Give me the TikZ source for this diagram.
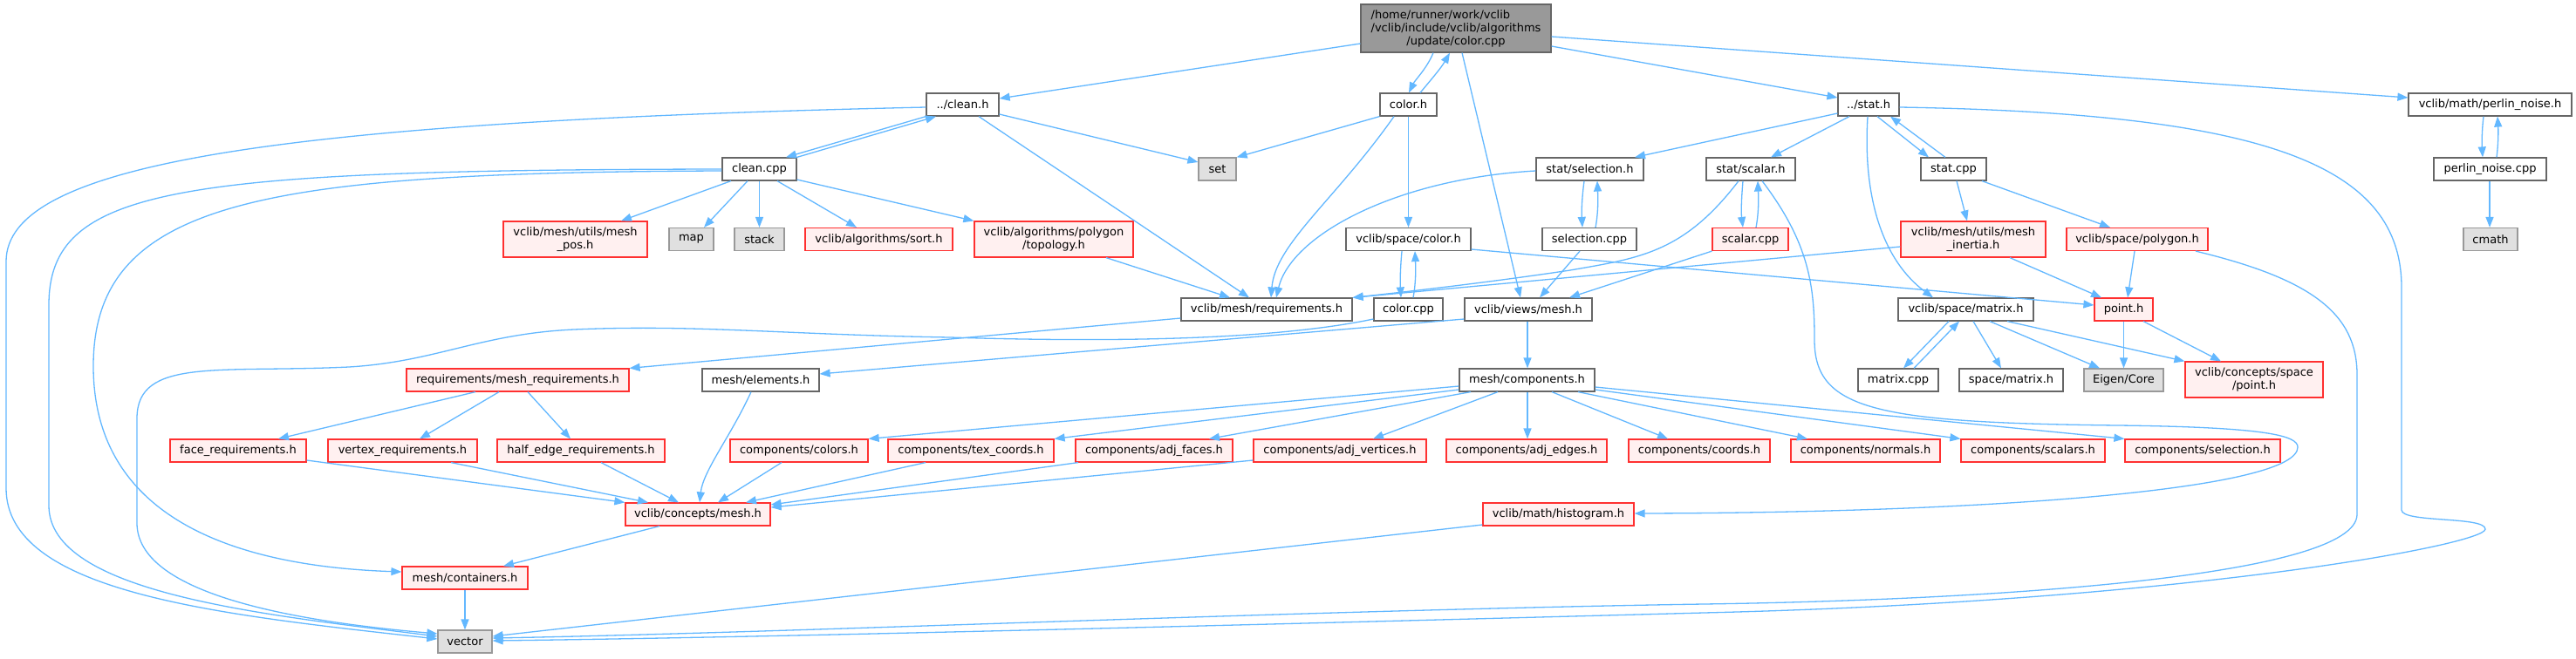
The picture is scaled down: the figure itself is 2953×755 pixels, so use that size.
\documentclass[tikz,border=0pt]{standalone}
\usepackage{fontspec}
\setmainfont{DejaVu Sans}
\usepackage{calc}
\usetikzlibrary{arrows.meta}
\definecolor{edgeblue}{HTML}{63B8FF}
\definecolor{boxgray}{HTML}{666666}
\definecolor{extgray}{HTML}{999999}
\definecolor{extfill}{HTML}{E0E0E0}
\definecolor{redline}{HTML}{FF3030}
\definecolor{redfill}{HTML}{FFF0F0}
\definecolor{rootfill}{HTML}{999999}
\newcommand\nodefont{\fontsize{6.5pt}{7.5pt}\selectfont}
\tikzset{
  nodebase/.style={draw, rectangle, inner sep=0pt, font=\nodefont, text=black, line width=0.6pt, minimum height=13pt},
  wbox/.style={nodebase, draw=boxgray, fill=white},
  gbox/.style={nodebase, draw=extgray, fill=extfill},
  rbox/.style={nodebase, draw=redline, fill=redfill},
  rootbox/.style={nodebase, draw=boxgray, fill=rootfill, minimum height=27.5pt, align=center},
  two/.style={minimum height=20.5pt, align=center},
  wd/.style={minimum width=#1*0.5pt},
  dep/.style={draw=edgeblue, line width=0.65pt, -{Triangle[length=6pt,width=4.5pt]}},
}
\begin{document}
\begin{tikzpicture}[x=0.5pt,y=-0.5pt]
\fill[white] (0,0) rectangle (2953,755);
\useasboundingbox (0,0) rectangle (2953,755);
% nodes
\node[rootbox, wd=218] (root) at (1669,32.5) {\makebox[\widthof{/vclib/include/vclib/algorithms}][l]{/home/runner/work/vclib}\\/vclib/include/vclib/algorithms\\/update/color.cpp};
\node[wbox, wd=83] (cleanh) at (1103.5,120) {../clean.h};
\node[wbox, wd=65] (colorh) at (1614.5,120) {color.h};
\node[wbox, wd=70] (stath) at (2142,120) {../stat.h};
\node[wbox, wd=187] (perlinh) at (2854.5,120) {vclib/math/perlin\_noise.h};
\node[wbox, wd=85] (cleancpp) at (870.5,194) {clean.cpp};
\node[gbox, wd=43] (set) at (1395.5,194) {set};
\node[wbox, wd=123] (selh) at (1822.5,194) {stat/selection.h};
\node[wbox, wd=102] (scalarh) at (2007,194) {stat/scalar.h};
\node[wbox, wd=75] (statcpp) at (2239.5,194) {stat.cpp};
\node[wbox, wd=129] (perlincpp) at (2854.5,194) {perlin\_noise.cpp};
\node[rbox, two, wd=165] (meshpos) at (659.5,274.5) {vclib/mesh/utils/mesh\\\_pos.h};
\node[gbox, wd=51] (map) at (792.5,274.5) {map};
\node[gbox, wd=57] (stack) at (870.5,274.5) {stack};
\node[rbox, wd=169] (sort) at (1007.5,274.5) {vclib/algorithms/sort.h};
\node[rbox, two, wd=182] (topology) at (1208,274.5) {vclib/algorithms/polygon\\/topology.h};
\node[wbox, wd=143] (spacecolor) at (1614.5,274.5) {vclib/space/color.h};
\node[wbox, wd=108] (selcpp) at (1822,274.5) {selection.cpp};
\node[rbox, wd=87] (scalarcpp) at (2006.5,274.5) {scalar.cpp};
\node[rbox, two, wd=166] (inertia) at (2262,274.5) {vclib/mesh/utils/mesh\\\_inertia.h};
\node[rbox, wd=162] (polygon) at (2450,274.5) {vclib/space/polygon.h};
\node[gbox, wd=62] (cmath) at (2855,274.5) {cmath};
\node[wbox, wd=196] (reqh) at (1452,355) {vclib/mesh/requirements.h};
\node[wbox, wd=79] (colorcpp) at (1614.5,355) {color.cpp};
\node[wbox, wd=146] (viewsmesh) at (1752,355) {vclib/views/mesh.h};
\node[wbox, wd=155] (matrixh) at (2253.5,355) {vclib/space/matrix.h};
\node[rbox, wd=67] (pointh) at (2434.5,355) {point.h};
\node[rbox, wd=255] (meshreq) at (593.5,436) {requirements/mesh\_requirements.h};
\node[wbox, wd=134] (elements) at (872,436) {mesh/elements.h};
\node[wbox, wd=155] (components) at (1750.5,436) {mesh/components.h};
\node[wbox, wd=92] (matrixcpp) at (2176,436) {matrix.cpp};
\node[wbox, wd=119] (spacematrix) at (2305.5,436) {space/matrix.h};
\node[gbox, wd=91] (eigen) at (2434.5,436) {Eigen/Core};
\node[rbox, two, wd=158] (cpoint) at (2584,435.5) {vclib/concepts/space\\/point.h};
\node[rbox, wd=156] (facereq) at (273,517) {face\_requirements.h};
\node[rbox, wd=171] (vertexreq) at (461.5,517) {vertex\_requirements.h};
\node[rbox, wd=192] (halfedge) at (666,517) {half\_edge\_requirements.h};
\node[rbox, wd=158] (colors) at (916,517) {components/colors.h};
\node[rbox, wd=190] (texcoords) at (1113,517) {components/tex\_coords.h};
\node[rbox, wd=180] (adjfaces) at (1323,517) {components/adj\_faces.h};
\node[rbox, wd=198] (adjverts) at (1536,517) {components/adj\_vertices.h};
\node[rbox, wd=184] (adjedges) at (1750,517) {components/adj\_edges.h};
\node[rbox, wd=162] (coords) at (1948,517) {components/coords.h};
\node[rbox, wd=171] (normals) at (2138.5,517) {components/normals.h};
\node[rbox, wd=165] (scalars) at (2330.5,517) {components/scalars.h};
\node[rbox, wd=178] (selection) at (2525,517) {components/selection.h};
\node[rbox, wd=166] (cmesh) at (800,590) {vclib/concepts/mesh.h};
\node[rbox, wd=173] (histogram) at (1786.5,590) {vclib/math/histogram.h};
\node[rbox, wd=144] (containers) at (533,663) {mesh/containers.h};
\node[gbox, wd=62] (vector) at (533,736) {vector};
% edges from root
\draw[dep] (root.west |- 0,50) -- (cleanh.east |- 0,113);
\draw[dep] (root.south -| 1643,0) .. controls (1636,78) and (1622,92) .. (colorh.north -| 1615,0);
\draw[dep] (colorh.north -| 1628,0) .. controls (1640,92) and (1652,78) .. (root.south -| 1662,0);
\draw[dep] (root.east |- 0,53) -- (stath.west |- 0,112);
\draw[dep] (root.east |- 0,42) -- (perlinh.west |- 0,112);
\draw[dep] (root.south -| 1676,0) -- (viewsmesh.north -| 1743,0);
% clean.h
\draw[dep] (cleanh.south west) -- (cleancpp.north -| 901,0);
\draw[dep] (cleancpp.north east) -- (cleanh.south -| 1073,0);
\draw[dep] (cleanh.east |- 0,131) -- (set.west |- 0,186);
\draw[dep] (cleanh.south -| 1122,0) -- (reqh.north -| 1432,0);
\draw[dep] (cleanh.west |- 0,123) .. controls (300,140) and (7,190) .. (7,300) -- (7,560) .. controls (7,680) and (250,705) .. (vector.west |- 0,733);
% clean.cpp
\draw[dep] (cleancpp.south -| 838,0) -- (meshpos.north -| 712,0);
\draw[dep] (cleancpp.south -| 857,0) -- (map.north -| 807,0);
\draw[dep] (cleancpp.south) -- (stack.north);
\draw[dep] (cleancpp.south -| 891,0) -- (sort.north -| 982,0);
\draw[dep] (cleancpp.east |- 0,206) -- (topology.north west);
\draw[dep] (cleancpp.west |- 0,194) .. controls (200,195) and (56,215) .. (56,350) -- (56,580) .. controls (56,680) and (300,705) .. (vector.west |- 0,730);
\draw[dep] (cleancpp.west |- 0,196) .. controls (300,198) and (107,230) .. (107,420) .. controls (107,600) and (280,650) .. (containers.west |- 0,656);
% color.h
\draw[dep] (colorh.south west) -- (set.north east);
\draw[dep] (colorh.south -| 1598,0) .. controls (1530,230) and (1462,280) .. (reqh.north -| 1457,0);
\draw[dep] (colorh.south) -- (spacecolor.north);
% selection
\draw[dep] (selh.south -| 1816,0) .. controls (1813,230) and (1813,245) .. (selcpp.north -| 1814,0);
\draw[dep] (selcpp.north -| 1829,0) .. controls (1832,245) and (1832,230) .. (selh.south -| 1831,0);
\draw[dep] (selh.west |- 0,196) .. controls (1600,205) and (1480,270) .. (reqh.north -| 1463,0);
\draw[dep] (selcpp.south -| 1811,0) -- (viewsmesh.north -| 1765,0);
% space/color.h
\draw[dep] (spacecolor.south -| 1607,0) .. controls (1605,310) and (1605,325) .. (colorcpp.north -| 1606,0);
\draw[dep] (colorcpp.north -| 1620,0) .. controls (1623,325) and (1623,310) .. (spacecolor.south -| 1622,0);
\draw[dep] (spacecolor.east |- 0,286) -- (pointh.west |- 0,350);
\draw[dep] (topology.south -| 1268,0) -- (reqh.north -| 1410,0);
% stat.h
\draw[dep] (stath.west |- 0,130) -- (selh.north -| 1874,0);
\draw[dep] (stath.south -| 2120,0) -- (scalarh.north -| 2030,0);
\draw[dep] (stath.south -| 2152,0) -- (statcpp.north -| 2211,0);
\draw[dep] (statcpp.north -| 2230,0) -- (stath.south -| 2167,0);
\draw[dep] (stath.south -| 2141,0) .. controls (2135,230) and (2160,300) .. (matrixh.north -| 2216,0);
\draw[dep] (stath.east |- 0,123) .. controls (2600,130) and (2753,190) .. (2753,330) -- (2753,585) .. controls (2753,600) and (2849,592) .. (2849,607) .. controls (2849,625) and (2500,690) .. (1953,703) .. controls (1500,715) and (900,731) .. (vector.east |- 0,735);
\draw[dep] (polygon.south -| 2517,0) .. controls (2650,320) and (2702,360) .. (2702,430) -- (2702,590) .. controls (2702,660) and (2300,688) .. (1953,693) .. controls (1500,700) and (900,726) .. (vector.east |- 0,732);
% stat/scalar.h
\draw[dep] (scalarh.south -| 1998,0) .. controls (1996,230) and (1996,245) .. (scalarcpp.north -| 1998,0);
\draw[dep] (scalarcpp.north -| 2013,0) .. controls (2016,245) and (2016,230) .. (scalarh.south -| 2015,0);
\draw[dep] (scalarh.south -| 1993,0) .. controls (1930,290) and (1880,296) .. (1800,310) .. controls (1700,325) and (1600,336) .. (reqh.north east);
\draw[dep] (scalarh.south -| 2020,0) .. controls (2075,280) and (2080,330) .. (2080,390) .. controls (2080,470) and (2150,485) .. (2428,488) .. controls (2600,490) and (2634,500) .. (2634,513) .. controls (2634,560) and (2300,588) .. (histogram.east |- 0,589);
\draw[dep] (scalarcpp.south west) -- (viewsmesh.north -| 1799,0);
\draw[dep] (inertia.west |- 0,283) -- (reqh.north east);
% stat.cpp etc.
\draw[dep] (statcpp.south -| 2243,0) -- (inertia.north -| 2255,0);
\draw[dep] (statcpp.south -| 2272,0) -- (polygon.north -| 2419,0);
\draw[dep] (inertia.south -| 2304,0) -- (pointh.north -| 2409,0);
\draw[dep] (polygon.south -| 2447,0) -- (pointh.north -| 2439,0);
\draw[dep] (pointh.south) -- (eigen.north);
\draw[dep] (pointh.south -| 2457,0) -- (cpoint.north -| 2546,0);
\draw[dep] (matrixh.south -| 2234,0) -- (matrixcpp.north -| 2182,0);
\draw[dep] (matrixcpp.north -| 2194,0) -- (matrixh.south -| 2246,0);
\draw[dep] (matrixh.south -| 2262,0) -- (spacematrix.north -| 2294,0);
\draw[dep] (matrixh.south -| 2281,0) -- (eigen.north -| 2407,0);
\draw[dep] (matrixh.south -| 2301,0) -- (cpoint.north west);
% perlin
\draw[dep] (perlinh.south -| 2847,0) .. controls (2845,150) and (2845,165) .. (perlincpp.north -| 2846,0);
\draw[dep] (perlincpp.north -| 2862,0) .. controls (2864,165) and (2864,150) .. (perlinh.south -| 2863,0);
\draw[dep] (perlincpp.south -| 2854,0) -- (cmath.north -| 2854,0);
% views/mesh.h, requirements
\draw[dep] (viewsmesh.south -| 1751,0) -- (components.north -| 1751,0);
\draw[dep] (viewsmesh.west |- 0,366) -- (elements.east |- 0,429);
\draw[dep] (reqh.west |- 0,365) -- (meshreq.north east);
\draw[dep] (colorcpp.west |- 0,366) .. controls (1450,392) and (1250,392) .. (1089,387) .. controls (900,384) and (800,372) .. (658,378) .. controls (550,383) and (500,415) .. (400,421) .. controls (250,428) and (157,410) .. (157,480) -- (157,600) .. controls (157,680) and (330,712) .. (vector.west |- 0,727);
% mesh requirements
\draw[dep] (meshreq.south -| 545,0) -- (facereq.north -| 319,0);
\draw[dep] (meshreq.south -| 572,0) -- (vertexreq.north -| 481,0);
\draw[dep] (meshreq.south -| 605,0) -- (halfedge.north -| 654,0);
\draw[dep] (facereq.east |- 0,528) -- (cmesh.north west);
\draw[dep] (vertexreq.south -| 517,0) -- (cmesh.north -| 743,0);
\draw[dep] (halfedge.south -| 689,0) -- (cmesh.north -| 778,0);
\draw[dep] (elements.south -| 861,0) .. controls (838,500) and (806,540) .. (cmesh.north -| 802,0);
\draw[dep] (colors.south -| 896,0) -- (cmesh.north -| 823,0);
\draw[dep] (texcoords.south -| 1061,0) -- (cmesh.north -| 855,0);
\draw[dep] (adjfaces.south -| 1236,0) -- (cmesh.east |- 0,579);
\draw[dep] (adjverts.west |- 0,528) -- (cmesh.east |- 0,582);
\draw[dep] (cmesh.south -| 756,0) -- (containers.north -| 577,0);
\draw[dep] (containers.south) -- (vector.north);
\draw[dep] (histogram.west |- 0,602) -- (vector.east |- 0,730);
% components
\draw[dep] (components.west |- 0,443) -- (colors.north east);
\draw[dep] (components.west |- 0,447) -- (texcoords.north east);
\draw[dep] (components.south -| 1686,0) -- (adjfaces.north -| 1386,0);
\draw[dep] (components.south -| 1717,0) -- (adjverts.north -| 1574,0);
\draw[dep] (components.south -| 1751,0) -- (adjedges.north -| 1751,0);
\draw[dep] (components.south -| 1779,0) -- (coords.north -| 1912,0);
\draw[dep] (components.south -| 1809,0) -- (normals.north -| 2072,0);
\draw[dep] (components.east |- 0,447) -- (scalars.north west);
\draw[dep] (components.east |- 0,444) -- (selection.north west);
\end{tikzpicture}
\end{document}
